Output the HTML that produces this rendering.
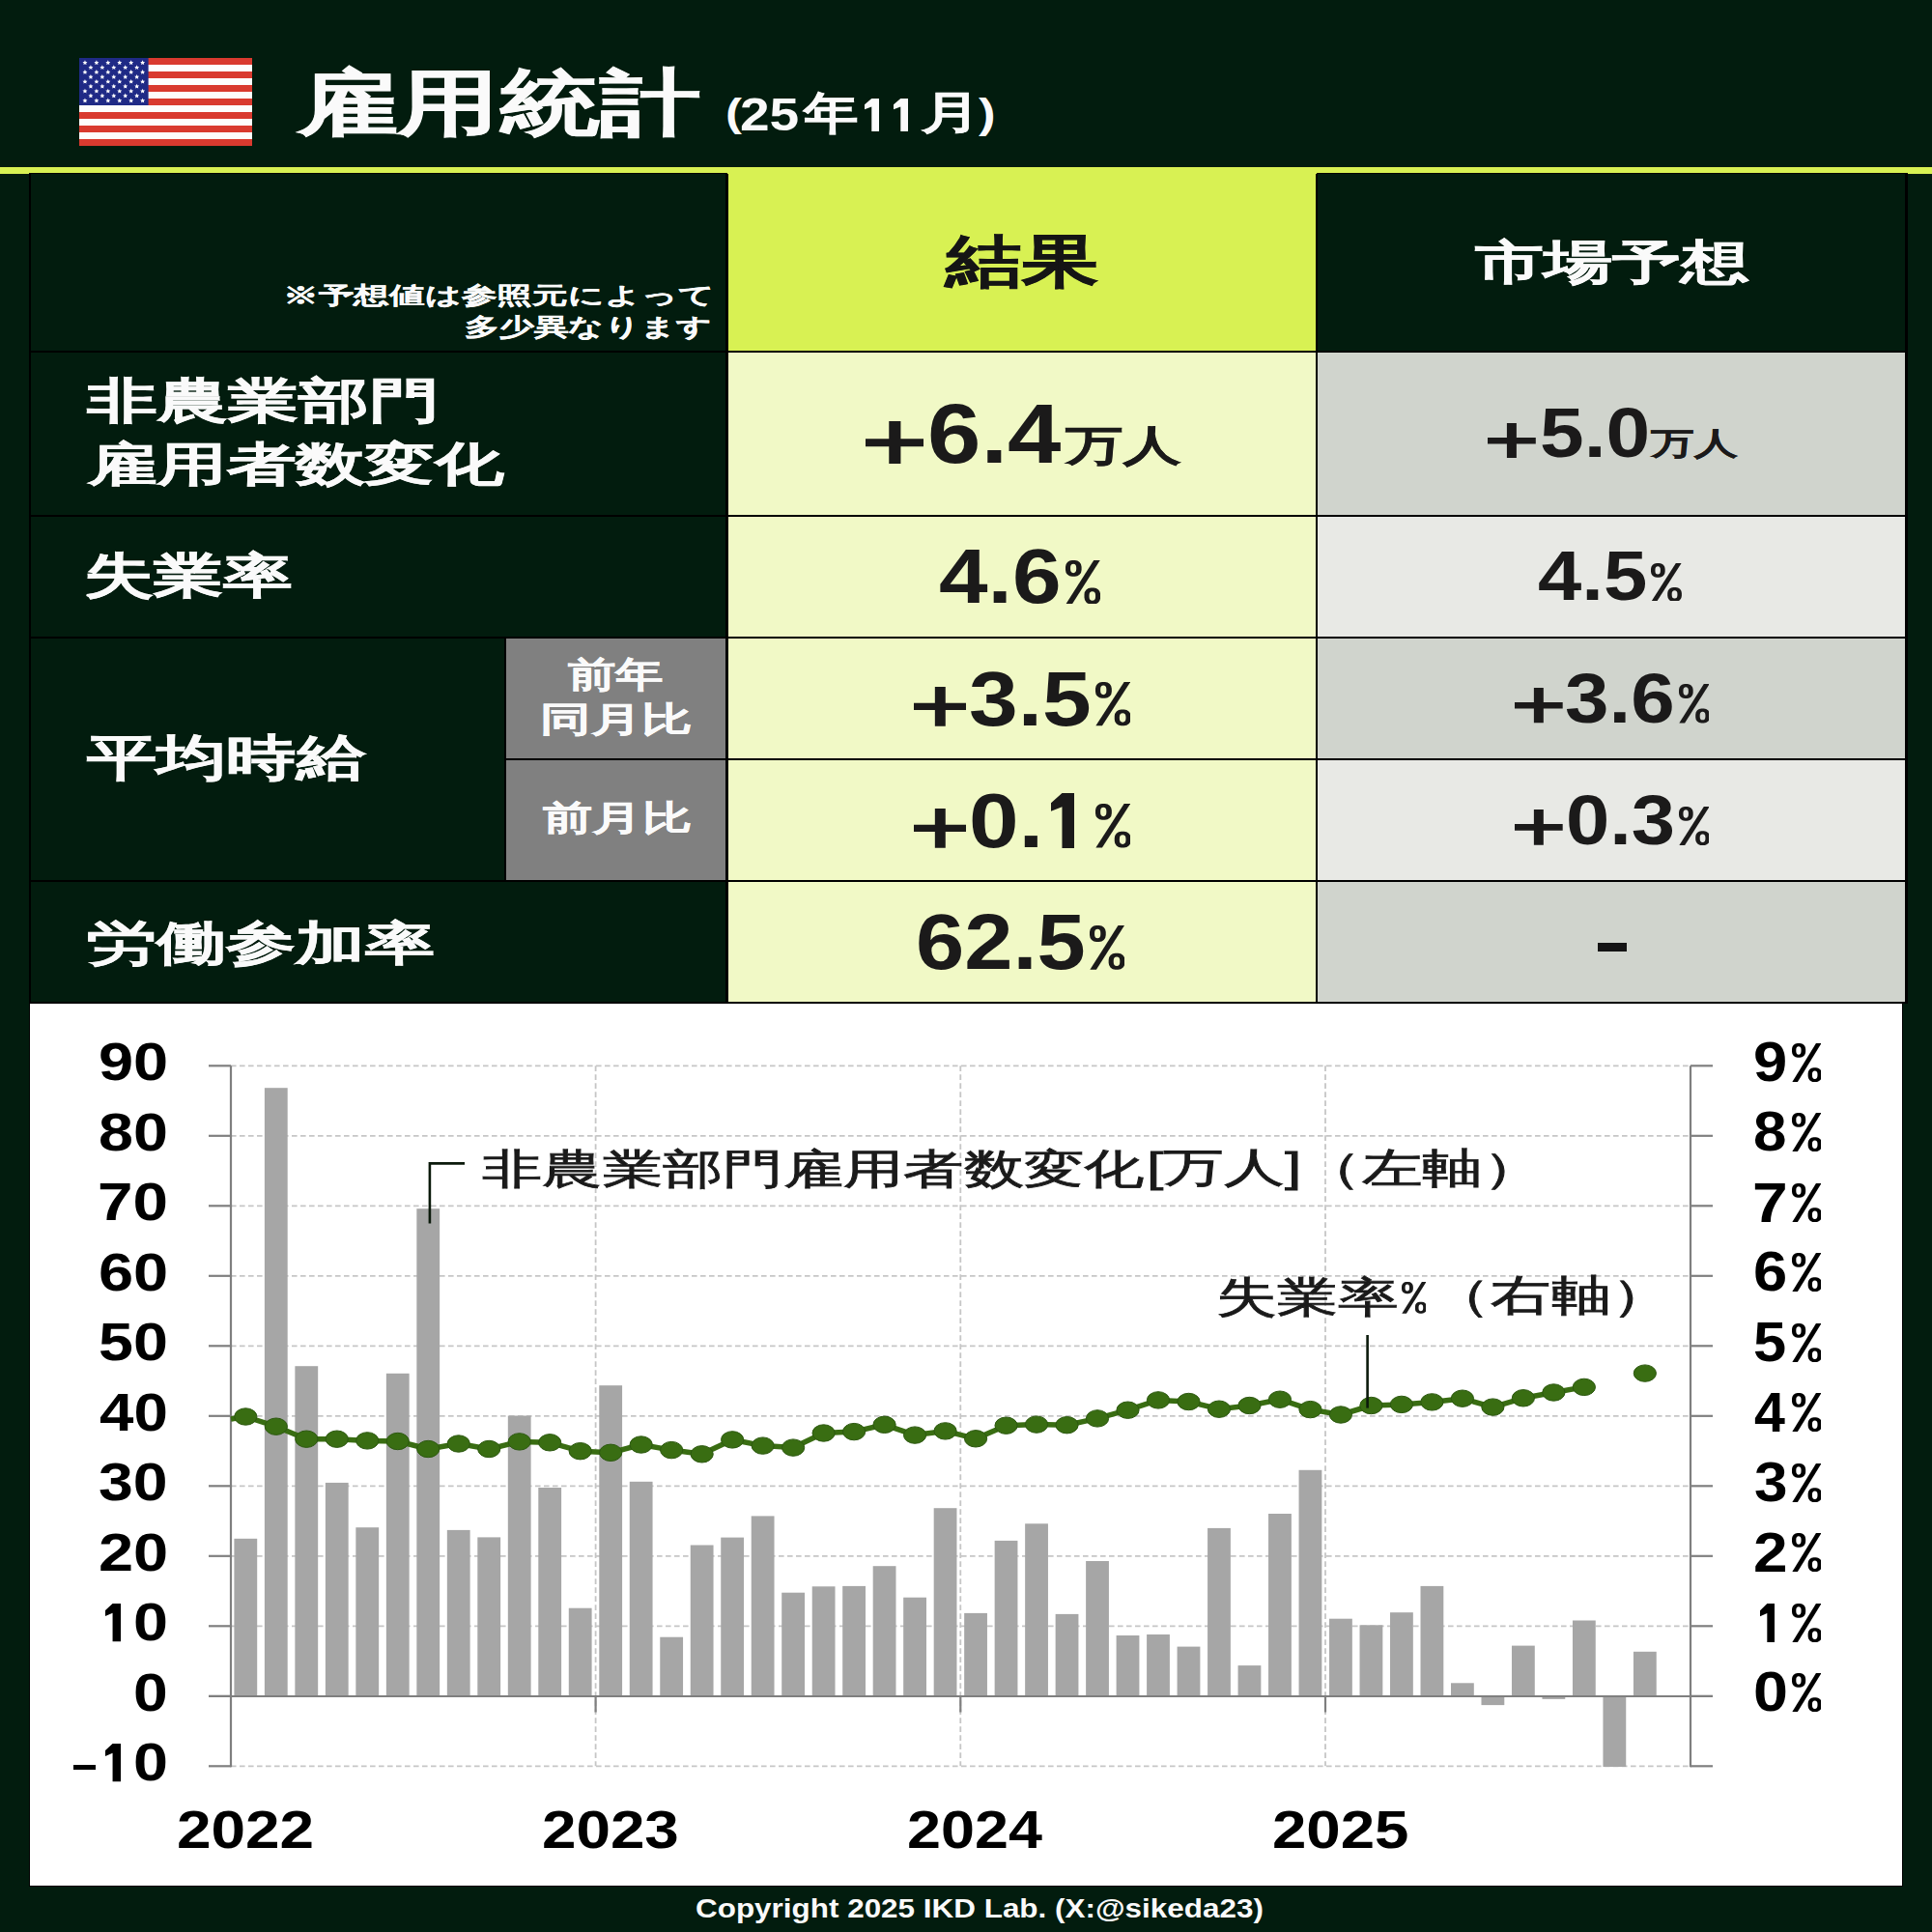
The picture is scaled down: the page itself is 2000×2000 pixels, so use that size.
<!DOCTYPE html>
<html><head><meta charset="utf-8"><style>
html,body{margin:0;padding:0}
body{width:2000px;height:2000px;position:relative;overflow:hidden;background:#021c0e;font-family:'Liberation Sans',sans-serif}
.r{position:absolute}
.t{position:absolute;line-height:1;white-space:nowrap;transform-origin:0 0}
</style></head><body>
<svg style="position:absolute;left:82px;top:60px" width="179" height="91" viewBox="0 0 179 91"><rect x="0" y="0" width="179" height="91" fill="#fdfdfd"/><rect x="0" y="0.000" width="179" height="7.000" fill="#d93a2f"/><rect x="0" y="14.000" width="179" height="7.000" fill="#d93a2f"/><rect x="0" y="28.000" width="179" height="7.000" fill="#d93a2f"/><rect x="0" y="42.000" width="179" height="7.000" fill="#d93a2f"/><rect x="0" y="56.000" width="179" height="7.000" fill="#d93a2f"/><rect x="0" y="70.000" width="179" height="7.000" fill="#d93a2f"/><rect x="0" y="84.000" width="179" height="7.000" fill="#d93a2f"/><rect x="0" y="0" width="71.6" height="49.0" fill="#1f2a86"/><path transform="translate(5.97,4.90)" d="M0,-2.6 L0.76,-0.83 L2.47,-0.8 L1.23,0.39 L1.53,2.1 L0,1.3 L-1.53,2.1 L-1.23,0.39 L-2.47,-0.8 L-0.76,-0.83Z" fill="#fff"/><path transform="translate(17.90,4.90)" d="M0,-2.6 L0.76,-0.83 L2.47,-0.8 L1.23,0.39 L1.53,2.1 L0,1.3 L-1.53,2.1 L-1.23,0.39 L-2.47,-0.8 L-0.76,-0.83Z" fill="#fff"/><path transform="translate(29.83,4.90)" d="M0,-2.6 L0.76,-0.83 L2.47,-0.8 L1.23,0.39 L1.53,2.1 L0,1.3 L-1.53,2.1 L-1.23,0.39 L-2.47,-0.8 L-0.76,-0.83Z" fill="#fff"/><path transform="translate(41.77,4.90)" d="M0,-2.6 L0.76,-0.83 L2.47,-0.8 L1.23,0.39 L1.53,2.1 L0,1.3 L-1.53,2.1 L-1.23,0.39 L-2.47,-0.8 L-0.76,-0.83Z" fill="#fff"/><path transform="translate(53.70,4.90)" d="M0,-2.6 L0.76,-0.83 L2.47,-0.8 L1.23,0.39 L1.53,2.1 L0,1.3 L-1.53,2.1 L-1.23,0.39 L-2.47,-0.8 L-0.76,-0.83Z" fill="#fff"/><path transform="translate(65.63,4.90)" d="M0,-2.6 L0.76,-0.83 L2.47,-0.8 L1.23,0.39 L1.53,2.1 L0,1.3 L-1.53,2.1 L-1.23,0.39 L-2.47,-0.8 L-0.76,-0.83Z" fill="#fff"/><path transform="translate(11.93,9.80)" d="M0,-2.6 L0.76,-0.83 L2.47,-0.8 L1.23,0.39 L1.53,2.1 L0,1.3 L-1.53,2.1 L-1.23,0.39 L-2.47,-0.8 L-0.76,-0.83Z" fill="#fff"/><path transform="translate(23.87,9.80)" d="M0,-2.6 L0.76,-0.83 L2.47,-0.8 L1.23,0.39 L1.53,2.1 L0,1.3 L-1.53,2.1 L-1.23,0.39 L-2.47,-0.8 L-0.76,-0.83Z" fill="#fff"/><path transform="translate(35.80,9.80)" d="M0,-2.6 L0.76,-0.83 L2.47,-0.8 L1.23,0.39 L1.53,2.1 L0,1.3 L-1.53,2.1 L-1.23,0.39 L-2.47,-0.8 L-0.76,-0.83Z" fill="#fff"/><path transform="translate(47.73,9.80)" d="M0,-2.6 L0.76,-0.83 L2.47,-0.8 L1.23,0.39 L1.53,2.1 L0,1.3 L-1.53,2.1 L-1.23,0.39 L-2.47,-0.8 L-0.76,-0.83Z" fill="#fff"/><path transform="translate(59.67,9.80)" d="M0,-2.6 L0.76,-0.83 L2.47,-0.8 L1.23,0.39 L1.53,2.1 L0,1.3 L-1.53,2.1 L-1.23,0.39 L-2.47,-0.8 L-0.76,-0.83Z" fill="#fff"/><path transform="translate(5.97,14.70)" d="M0,-2.6 L0.76,-0.83 L2.47,-0.8 L1.23,0.39 L1.53,2.1 L0,1.3 L-1.53,2.1 L-1.23,0.39 L-2.47,-0.8 L-0.76,-0.83Z" fill="#fff"/><path transform="translate(17.90,14.70)" d="M0,-2.6 L0.76,-0.83 L2.47,-0.8 L1.23,0.39 L1.53,2.1 L0,1.3 L-1.53,2.1 L-1.23,0.39 L-2.47,-0.8 L-0.76,-0.83Z" fill="#fff"/><path transform="translate(29.83,14.70)" d="M0,-2.6 L0.76,-0.83 L2.47,-0.8 L1.23,0.39 L1.53,2.1 L0,1.3 L-1.53,2.1 L-1.23,0.39 L-2.47,-0.8 L-0.76,-0.83Z" fill="#fff"/><path transform="translate(41.77,14.70)" d="M0,-2.6 L0.76,-0.83 L2.47,-0.8 L1.23,0.39 L1.53,2.1 L0,1.3 L-1.53,2.1 L-1.23,0.39 L-2.47,-0.8 L-0.76,-0.83Z" fill="#fff"/><path transform="translate(53.70,14.70)" d="M0,-2.6 L0.76,-0.83 L2.47,-0.8 L1.23,0.39 L1.53,2.1 L0,1.3 L-1.53,2.1 L-1.23,0.39 L-2.47,-0.8 L-0.76,-0.83Z" fill="#fff"/><path transform="translate(65.63,14.70)" d="M0,-2.6 L0.76,-0.83 L2.47,-0.8 L1.23,0.39 L1.53,2.1 L0,1.3 L-1.53,2.1 L-1.23,0.39 L-2.47,-0.8 L-0.76,-0.83Z" fill="#fff"/><path transform="translate(11.93,19.60)" d="M0,-2.6 L0.76,-0.83 L2.47,-0.8 L1.23,0.39 L1.53,2.1 L0,1.3 L-1.53,2.1 L-1.23,0.39 L-2.47,-0.8 L-0.76,-0.83Z" fill="#fff"/><path transform="translate(23.87,19.60)" d="M0,-2.6 L0.76,-0.83 L2.47,-0.8 L1.23,0.39 L1.53,2.1 L0,1.3 L-1.53,2.1 L-1.23,0.39 L-2.47,-0.8 L-0.76,-0.83Z" fill="#fff"/><path transform="translate(35.80,19.60)" d="M0,-2.6 L0.76,-0.83 L2.47,-0.8 L1.23,0.39 L1.53,2.1 L0,1.3 L-1.53,2.1 L-1.23,0.39 L-2.47,-0.8 L-0.76,-0.83Z" fill="#fff"/><path transform="translate(47.73,19.60)" d="M0,-2.6 L0.76,-0.83 L2.47,-0.8 L1.23,0.39 L1.53,2.1 L0,1.3 L-1.53,2.1 L-1.23,0.39 L-2.47,-0.8 L-0.76,-0.83Z" fill="#fff"/><path transform="translate(59.67,19.60)" d="M0,-2.6 L0.76,-0.83 L2.47,-0.8 L1.23,0.39 L1.53,2.1 L0,1.3 L-1.53,2.1 L-1.23,0.39 L-2.47,-0.8 L-0.76,-0.83Z" fill="#fff"/><path transform="translate(5.97,24.50)" d="M0,-2.6 L0.76,-0.83 L2.47,-0.8 L1.23,0.39 L1.53,2.1 L0,1.3 L-1.53,2.1 L-1.23,0.39 L-2.47,-0.8 L-0.76,-0.83Z" fill="#fff"/><path transform="translate(17.90,24.50)" d="M0,-2.6 L0.76,-0.83 L2.47,-0.8 L1.23,0.39 L1.53,2.1 L0,1.3 L-1.53,2.1 L-1.23,0.39 L-2.47,-0.8 L-0.76,-0.83Z" fill="#fff"/><path transform="translate(29.83,24.50)" d="M0,-2.6 L0.76,-0.83 L2.47,-0.8 L1.23,0.39 L1.53,2.1 L0,1.3 L-1.53,2.1 L-1.23,0.39 L-2.47,-0.8 L-0.76,-0.83Z" fill="#fff"/><path transform="translate(41.77,24.50)" d="M0,-2.6 L0.76,-0.83 L2.47,-0.8 L1.23,0.39 L1.53,2.1 L0,1.3 L-1.53,2.1 L-1.23,0.39 L-2.47,-0.8 L-0.76,-0.83Z" fill="#fff"/><path transform="translate(53.70,24.50)" d="M0,-2.6 L0.76,-0.83 L2.47,-0.8 L1.23,0.39 L1.53,2.1 L0,1.3 L-1.53,2.1 L-1.23,0.39 L-2.47,-0.8 L-0.76,-0.83Z" fill="#fff"/><path transform="translate(65.63,24.50)" d="M0,-2.6 L0.76,-0.83 L2.47,-0.8 L1.23,0.39 L1.53,2.1 L0,1.3 L-1.53,2.1 L-1.23,0.39 L-2.47,-0.8 L-0.76,-0.83Z" fill="#fff"/><path transform="translate(11.93,29.40)" d="M0,-2.6 L0.76,-0.83 L2.47,-0.8 L1.23,0.39 L1.53,2.1 L0,1.3 L-1.53,2.1 L-1.23,0.39 L-2.47,-0.8 L-0.76,-0.83Z" fill="#fff"/><path transform="translate(23.87,29.40)" d="M0,-2.6 L0.76,-0.83 L2.47,-0.8 L1.23,0.39 L1.53,2.1 L0,1.3 L-1.53,2.1 L-1.23,0.39 L-2.47,-0.8 L-0.76,-0.83Z" fill="#fff"/><path transform="translate(35.80,29.40)" d="M0,-2.6 L0.76,-0.83 L2.47,-0.8 L1.23,0.39 L1.53,2.1 L0,1.3 L-1.53,2.1 L-1.23,0.39 L-2.47,-0.8 L-0.76,-0.83Z" fill="#fff"/><path transform="translate(47.73,29.40)" d="M0,-2.6 L0.76,-0.83 L2.47,-0.8 L1.23,0.39 L1.53,2.1 L0,1.3 L-1.53,2.1 L-1.23,0.39 L-2.47,-0.8 L-0.76,-0.83Z" fill="#fff"/><path transform="translate(59.67,29.40)" d="M0,-2.6 L0.76,-0.83 L2.47,-0.8 L1.23,0.39 L1.53,2.1 L0,1.3 L-1.53,2.1 L-1.23,0.39 L-2.47,-0.8 L-0.76,-0.83Z" fill="#fff"/><path transform="translate(5.97,34.30)" d="M0,-2.6 L0.76,-0.83 L2.47,-0.8 L1.23,0.39 L1.53,2.1 L0,1.3 L-1.53,2.1 L-1.23,0.39 L-2.47,-0.8 L-0.76,-0.83Z" fill="#fff"/><path transform="translate(17.90,34.30)" d="M0,-2.6 L0.76,-0.83 L2.47,-0.8 L1.23,0.39 L1.53,2.1 L0,1.3 L-1.53,2.1 L-1.23,0.39 L-2.47,-0.8 L-0.76,-0.83Z" fill="#fff"/><path transform="translate(29.83,34.30)" d="M0,-2.6 L0.76,-0.83 L2.47,-0.8 L1.23,0.39 L1.53,2.1 L0,1.3 L-1.53,2.1 L-1.23,0.39 L-2.47,-0.8 L-0.76,-0.83Z" fill="#fff"/><path transform="translate(41.77,34.30)" d="M0,-2.6 L0.76,-0.83 L2.47,-0.8 L1.23,0.39 L1.53,2.1 L0,1.3 L-1.53,2.1 L-1.23,0.39 L-2.47,-0.8 L-0.76,-0.83Z" fill="#fff"/><path transform="translate(53.70,34.30)" d="M0,-2.6 L0.76,-0.83 L2.47,-0.8 L1.23,0.39 L1.53,2.1 L0,1.3 L-1.53,2.1 L-1.23,0.39 L-2.47,-0.8 L-0.76,-0.83Z" fill="#fff"/><path transform="translate(65.63,34.30)" d="M0,-2.6 L0.76,-0.83 L2.47,-0.8 L1.23,0.39 L1.53,2.1 L0,1.3 L-1.53,2.1 L-1.23,0.39 L-2.47,-0.8 L-0.76,-0.83Z" fill="#fff"/><path transform="translate(11.93,39.20)" d="M0,-2.6 L0.76,-0.83 L2.47,-0.8 L1.23,0.39 L1.53,2.1 L0,1.3 L-1.53,2.1 L-1.23,0.39 L-2.47,-0.8 L-0.76,-0.83Z" fill="#fff"/><path transform="translate(23.87,39.20)" d="M0,-2.6 L0.76,-0.83 L2.47,-0.8 L1.23,0.39 L1.53,2.1 L0,1.3 L-1.53,2.1 L-1.23,0.39 L-2.47,-0.8 L-0.76,-0.83Z" fill="#fff"/><path transform="translate(35.80,39.20)" d="M0,-2.6 L0.76,-0.83 L2.47,-0.8 L1.23,0.39 L1.53,2.1 L0,1.3 L-1.53,2.1 L-1.23,0.39 L-2.47,-0.8 L-0.76,-0.83Z" fill="#fff"/><path transform="translate(47.73,39.20)" d="M0,-2.6 L0.76,-0.83 L2.47,-0.8 L1.23,0.39 L1.53,2.1 L0,1.3 L-1.53,2.1 L-1.23,0.39 L-2.47,-0.8 L-0.76,-0.83Z" fill="#fff"/><path transform="translate(59.67,39.20)" d="M0,-2.6 L0.76,-0.83 L2.47,-0.8 L1.23,0.39 L1.53,2.1 L0,1.3 L-1.53,2.1 L-1.23,0.39 L-2.47,-0.8 L-0.76,-0.83Z" fill="#fff"/><path transform="translate(5.97,44.10)" d="M0,-2.6 L0.76,-0.83 L2.47,-0.8 L1.23,0.39 L1.53,2.1 L0,1.3 L-1.53,2.1 L-1.23,0.39 L-2.47,-0.8 L-0.76,-0.83Z" fill="#fff"/><path transform="translate(17.90,44.10)" d="M0,-2.6 L0.76,-0.83 L2.47,-0.8 L1.23,0.39 L1.53,2.1 L0,1.3 L-1.53,2.1 L-1.23,0.39 L-2.47,-0.8 L-0.76,-0.83Z" fill="#fff"/><path transform="translate(29.83,44.10)" d="M0,-2.6 L0.76,-0.83 L2.47,-0.8 L1.23,0.39 L1.53,2.1 L0,1.3 L-1.53,2.1 L-1.23,0.39 L-2.47,-0.8 L-0.76,-0.83Z" fill="#fff"/><path transform="translate(41.77,44.10)" d="M0,-2.6 L0.76,-0.83 L2.47,-0.8 L1.23,0.39 L1.53,2.1 L0,1.3 L-1.53,2.1 L-1.23,0.39 L-2.47,-0.8 L-0.76,-0.83Z" fill="#fff"/><path transform="translate(53.70,44.10)" d="M0,-2.6 L0.76,-0.83 L2.47,-0.8 L1.23,0.39 L1.53,2.1 L0,1.3 L-1.53,2.1 L-1.23,0.39 L-2.47,-0.8 L-0.76,-0.83Z" fill="#fff"/><path transform="translate(65.63,44.10)" d="M0,-2.6 L0.76,-0.83 L2.47,-0.8 L1.23,0.39 L1.53,2.1 L0,1.3 L-1.53,2.1 L-1.23,0.39 L-2.47,-0.8 L-0.76,-0.83Z" fill="#fff"/></svg>
<div class="r" style="left:0px;top:173px;width:2000px;height:7px;background:#d8f153"></div>
<div class="r" style="left:753px;top:174px;width:610px;height:189px;background:#d8f153"></div>
<div class="r" style="left:753px;top:363px;width:610px;height:675px;background:#f1f9c6"></div>
<div class="r" style="left:1363px;top:363px;width:610px;height:170px;background:#d0d4cd"></div>
<div class="r" style="left:1363px;top:533px;width:610px;height:127px;background:#e8e9e5"></div>
<div class="r" style="left:1363px;top:660px;width:610px;height:126px;background:#d0d4cd"></div>
<div class="r" style="left:1363px;top:786px;width:610px;height:126px;background:#e8e9e5"></div>
<div class="r" style="left:1363px;top:912px;width:610px;height:126px;background:#d0d4cd"></div>
<div class="r" style="left:523px;top:660px;width:229px;height:252px;background:#808080"></div>
<div class="r" style="left:1653.6px;top:976.2px;width:30.300000000000182px;height:8.599999999999909px;background:#141414"></div>
<div class="r" style="left:30px;top:178.75px;width:723px;height:1.5px;background:#000"></div>
<div class="r" style="left:1363px;top:178.75px;width:612px;height:1.5px;background:#000"></div>
<div class="r" style="left:30px;top:362.5px;width:1945px;height:2.0px;background:#000"></div>
<div class="r" style="left:30px;top:532.5px;width:1945px;height:2.0px;background:#000"></div>
<div class="r" style="left:30px;top:659.0px;width:1945px;height:2.0px;background:#000"></div>
<div class="r" style="left:523px;top:785.0px;width:1452px;height:2.0px;background:#000"></div>
<div class="r" style="left:30px;top:911.0px;width:1945px;height:2.0px;background:#000"></div>
<div class="r" style="left:30px;top:1037.0px;width:1945px;height:2.0px;background:#000"></div>
<div class="r" style="left:29.75px;top:180px;width:2.5px;height:858px;background:#000"></div>
<div class="r" style="left:751.25px;top:180px;width:2.5px;height:858px;background:#000"></div>
<div class="r" style="left:1361.95px;top:180px;width:2.5px;height:858px;background:#000"></div>
<div class="r" style="left:1972.25px;top:180px;width:2.5px;height:858px;background:#000"></div>
<div class="r" style="left:522.0px;top:660px;width:2.0px;height:252px;background:#000"></div>
<div class="r" style="left:30px;top:1037px;width:1940px;height:916px;background:#000"></div>
<div class="r" style="left:31px;top:1039px;width:1938px;height:913px;background:#fff"></div>
<svg style="position:absolute;left:0;top:0" width="2000" height="2000" viewBox="0 0 2000 2000"><line x1="239" y1="1103.30" x2="1750" y2="1103.30" stroke="#c6c6c6" stroke-width="1.8" stroke-dasharray="5.6 3.4"/><line x1="239" y1="1175.80" x2="1750" y2="1175.80" stroke="#c6c6c6" stroke-width="1.8" stroke-dasharray="5.6 3.4"/><line x1="239" y1="1248.30" x2="1750" y2="1248.30" stroke="#c6c6c6" stroke-width="1.8" stroke-dasharray="5.6 3.4"/><line x1="239" y1="1320.80" x2="1750" y2="1320.80" stroke="#c6c6c6" stroke-width="1.8" stroke-dasharray="5.6 3.4"/><line x1="239" y1="1393.30" x2="1750" y2="1393.30" stroke="#c6c6c6" stroke-width="1.8" stroke-dasharray="5.6 3.4"/><line x1="239" y1="1465.80" x2="1750" y2="1465.80" stroke="#c6c6c6" stroke-width="1.8" stroke-dasharray="5.6 3.4"/><line x1="239" y1="1538.30" x2="1750" y2="1538.30" stroke="#c6c6c6" stroke-width="1.8" stroke-dasharray="5.6 3.4"/><line x1="239" y1="1610.80" x2="1750" y2="1610.80" stroke="#c6c6c6" stroke-width="1.8" stroke-dasharray="5.6 3.4"/><line x1="239" y1="1683.30" x2="1750" y2="1683.30" stroke="#c6c6c6" stroke-width="1.8" stroke-dasharray="5.6 3.4"/><line x1="239" y1="1828.30" x2="1750" y2="1828.30" stroke="#c6c6c6" stroke-width="1.8" stroke-dasharray="5.6 3.4"/><line x1="616.6" y1="1103.3" x2="616.6" y2="1828.3" stroke="#c6c6c6" stroke-width="1.8" stroke-dasharray="5.6 3.4"/><line x1="994.3" y1="1103.3" x2="994.3" y2="1828.3" stroke="#c6c6c6" stroke-width="1.8" stroke-dasharray="5.6 3.4"/><line x1="1372" y1="1103.3" x2="1372" y2="1828.3" stroke="#c6c6c6" stroke-width="1.8" stroke-dasharray="5.6 3.4"/><rect x="242.40" y="1592.80" width="23.8" height="163.20" fill="#a6a6a6"/><rect x="273.89" y="1126.20" width="23.8" height="629.80" fill="#a6a6a6"/><rect x="305.38" y="1414.20" width="23.8" height="341.80" fill="#a6a6a6"/><rect x="336.87" y="1534.90" width="23.8" height="221.10" fill="#a6a6a6"/><rect x="368.36" y="1581.20" width="23.8" height="174.80" fill="#a6a6a6"/><rect x="399.85" y="1421.80" width="23.8" height="334.20" fill="#a6a6a6"/><rect x="431.34" y="1251.20" width="23.8" height="504.80" fill="#a6a6a6"/><rect x="462.83" y="1583.90" width="23.8" height="172.10" fill="#a6a6a6"/><rect x="494.32" y="1591.40" width="23.8" height="164.60" fill="#a6a6a6"/><rect x="525.81" y="1465.50" width="23.8" height="290.50" fill="#a6a6a6"/><rect x="557.30" y="1540.00" width="23.8" height="216.00" fill="#a6a6a6"/><rect x="588.79" y="1664.70" width="23.8" height="91.30" fill="#a6a6a6"/><rect x="620.28" y="1434.20" width="23.8" height="321.80" fill="#a6a6a6"/><rect x="651.77" y="1533.80" width="23.8" height="222.20" fill="#a6a6a6"/><rect x="683.26" y="1694.70" width="23.8" height="61.30" fill="#a6a6a6"/><rect x="714.75" y="1599.50" width="23.8" height="156.50" fill="#a6a6a6"/><rect x="746.24" y="1591.60" width="23.8" height="164.40" fill="#a6a6a6"/><rect x="777.73" y="1569.40" width="23.8" height="186.60" fill="#a6a6a6"/><rect x="809.22" y="1648.70" width="23.8" height="107.30" fill="#a6a6a6"/><rect x="840.71" y="1642.30" width="23.8" height="113.70" fill="#a6a6a6"/><rect x="872.20" y="1641.90" width="23.8" height="114.10" fill="#a6a6a6"/><rect x="903.69" y="1621.20" width="23.8" height="134.80" fill="#a6a6a6"/><rect x="935.18" y="1653.70" width="23.8" height="102.30" fill="#a6a6a6"/><rect x="966.67" y="1561.20" width="23.8" height="194.80" fill="#a6a6a6"/><rect x="998.16" y="1669.90" width="23.8" height="86.10" fill="#a6a6a6"/><rect x="1029.65" y="1594.90" width="23.8" height="161.10" fill="#a6a6a6"/><rect x="1061.14" y="1577.30" width="23.8" height="178.70" fill="#a6a6a6"/><rect x="1092.63" y="1670.90" width="23.8" height="85.10" fill="#a6a6a6"/><rect x="1124.12" y="1616.00" width="23.8" height="140.00" fill="#a6a6a6"/><rect x="1155.61" y="1693.00" width="23.8" height="63.00" fill="#a6a6a6"/><rect x="1187.10" y="1692.00" width="23.8" height="64.00" fill="#a6a6a6"/><rect x="1218.59" y="1704.60" width="23.8" height="51.40" fill="#a6a6a6"/><rect x="1250.08" y="1581.90" width="23.8" height="174.10" fill="#a6a6a6"/><rect x="1281.57" y="1724.10" width="23.8" height="31.90" fill="#a6a6a6"/><rect x="1313.06" y="1567.00" width="23.8" height="189.00" fill="#a6a6a6"/><rect x="1344.55" y="1521.80" width="23.8" height="234.20" fill="#a6a6a6"/><rect x="1376.04" y="1675.70" width="23.8" height="80.30" fill="#a6a6a6"/><rect x="1407.53" y="1682.30" width="23.8" height="73.70" fill="#a6a6a6"/><rect x="1439.02" y="1669.20" width="23.8" height="86.80" fill="#a6a6a6"/><rect x="1470.51" y="1641.90" width="23.8" height="114.10" fill="#a6a6a6"/><rect x="1502.00" y="1742.30" width="23.8" height="13.70" fill="#a6a6a6"/><rect x="1533.49" y="1756.00" width="23.8" height="9.10" fill="#a6a6a6"/><rect x="1564.98" y="1703.60" width="23.8" height="52.40" fill="#a6a6a6"/><rect x="1596.47" y="1756.00" width="23.8" height="2.90" fill="#a6a6a6"/><rect x="1627.96" y="1677.50" width="23.8" height="78.50" fill="#a6a6a6"/><rect x="1659.45" y="1756.00" width="23.8" height="73.00" fill="#a6a6a6"/><rect x="1690.94" y="1709.80" width="23.8" height="46.20" fill="#a6a6a6"/><line x1="216" y1="1756" x2="1773" y2="1756" stroke="#7f7f7f" stroke-width="2.2"/><line x1="239" y1="1103.3" x2="239" y2="1829.3" stroke="#7f7f7f" stroke-width="2.2"/><line x1="1750" y1="1103.3" x2="1750" y2="1829.3" stroke="#7f7f7f" stroke-width="2.2"/><line x1="216" y1="1103.30" x2="239" y2="1103.30" stroke="#7f7f7f" stroke-width="2.2"/><line x1="1750" y1="1103.30" x2="1773" y2="1103.30" stroke="#7f7f7f" stroke-width="2.2"/><line x1="216" y1="1175.80" x2="239" y2="1175.80" stroke="#7f7f7f" stroke-width="2.2"/><line x1="1750" y1="1175.80" x2="1773" y2="1175.80" stroke="#7f7f7f" stroke-width="2.2"/><line x1="216" y1="1248.30" x2="239" y2="1248.30" stroke="#7f7f7f" stroke-width="2.2"/><line x1="1750" y1="1248.30" x2="1773" y2="1248.30" stroke="#7f7f7f" stroke-width="2.2"/><line x1="216" y1="1320.80" x2="239" y2="1320.80" stroke="#7f7f7f" stroke-width="2.2"/><line x1="1750" y1="1320.80" x2="1773" y2="1320.80" stroke="#7f7f7f" stroke-width="2.2"/><line x1="216" y1="1393.30" x2="239" y2="1393.30" stroke="#7f7f7f" stroke-width="2.2"/><line x1="1750" y1="1393.30" x2="1773" y2="1393.30" stroke="#7f7f7f" stroke-width="2.2"/><line x1="216" y1="1465.80" x2="239" y2="1465.80" stroke="#7f7f7f" stroke-width="2.2"/><line x1="1750" y1="1465.80" x2="1773" y2="1465.80" stroke="#7f7f7f" stroke-width="2.2"/><line x1="216" y1="1538.30" x2="239" y2="1538.30" stroke="#7f7f7f" stroke-width="2.2"/><line x1="1750" y1="1538.30" x2="1773" y2="1538.30" stroke="#7f7f7f" stroke-width="2.2"/><line x1="216" y1="1610.80" x2="239" y2="1610.80" stroke="#7f7f7f" stroke-width="2.2"/><line x1="1750" y1="1610.80" x2="1773" y2="1610.80" stroke="#7f7f7f" stroke-width="2.2"/><line x1="216" y1="1683.30" x2="239" y2="1683.30" stroke="#7f7f7f" stroke-width="2.2"/><line x1="1750" y1="1683.30" x2="1773" y2="1683.30" stroke="#7f7f7f" stroke-width="2.2"/><line x1="216" y1="1755.80" x2="239" y2="1755.80" stroke="#7f7f7f" stroke-width="2.2"/><line x1="1750" y1="1755.80" x2="1773" y2="1755.80" stroke="#7f7f7f" stroke-width="2.2"/><line x1="216" y1="1828.30" x2="239" y2="1828.30" stroke="#7f7f7f" stroke-width="2.2"/><line x1="1750" y1="1828.30" x2="1773" y2="1828.30" stroke="#7f7f7f" stroke-width="2.2"/><line x1="616.6" y1="1756" x2="616.6" y2="1772.5" stroke="#7f7f7f" stroke-width="2.2"/><line x1="994.3" y1="1756" x2="994.3" y2="1772.5" stroke="#7f7f7f" stroke-width="2.2"/><line x1="1372" y1="1756" x2="1372" y2="1772.5" stroke="#7f7f7f" stroke-width="2.2"/><polyline points="239,1469 254.30,1466.5 285.79,1476.7 317.28,1489.7 348.77,1489.7 380.26,1491.4 411.75,1492 443.24,1500 474.73,1494.5 506.22,1500 537.71,1492.4 569.20,1493.3 600.69,1502.2 632.18,1503.8 663.67,1495.5 695.16,1501.1 726.65,1505.3 758.14,1490.4 789.63,1496.6 821.12,1498.6 852.61,1483.5 884.10,1482.1 915.59,1474.8 947.08,1485.6 978.57,1481.4 1010.06,1489.3 1041.55,1475.7 1073.04,1474.6 1104.53,1475.2 1136.02,1468.4 1167.51,1459.7 1199.00,1449.4 1230.49,1451 1261.98,1458.7 1293.47,1455 1324.96,1448.7 1356.45,1459.1 1387.94,1464.5 1419.43,1455 1450.92,1453.9 1482.41,1451.4 1513.90,1447.7 1545.39,1456.6 1576.88,1447.3 1608.37,1441.5 1639.86,1435.9" fill="none" stroke="#396d12" stroke-width="5.5" stroke-linejoin="round"/><ellipse cx="254.30" cy="1466.5" rx="11.6" ry="8.7" fill="#396d12" stroke="#2c5810" stroke-width="1"/><ellipse cx="285.79" cy="1476.7" rx="11.6" ry="8.7" fill="#396d12" stroke="#2c5810" stroke-width="1"/><ellipse cx="317.28" cy="1489.7" rx="11.6" ry="8.7" fill="#396d12" stroke="#2c5810" stroke-width="1"/><ellipse cx="348.77" cy="1489.7" rx="11.6" ry="8.7" fill="#396d12" stroke="#2c5810" stroke-width="1"/><ellipse cx="380.26" cy="1491.4" rx="11.6" ry="8.7" fill="#396d12" stroke="#2c5810" stroke-width="1"/><ellipse cx="411.75" cy="1492" rx="11.6" ry="8.7" fill="#396d12" stroke="#2c5810" stroke-width="1"/><ellipse cx="443.24" cy="1500" rx="11.6" ry="8.7" fill="#396d12" stroke="#2c5810" stroke-width="1"/><ellipse cx="474.73" cy="1494.5" rx="11.6" ry="8.7" fill="#396d12" stroke="#2c5810" stroke-width="1"/><ellipse cx="506.22" cy="1500" rx="11.6" ry="8.7" fill="#396d12" stroke="#2c5810" stroke-width="1"/><ellipse cx="537.71" cy="1492.4" rx="11.6" ry="8.7" fill="#396d12" stroke="#2c5810" stroke-width="1"/><ellipse cx="569.20" cy="1493.3" rx="11.6" ry="8.7" fill="#396d12" stroke="#2c5810" stroke-width="1"/><ellipse cx="600.69" cy="1502.2" rx="11.6" ry="8.7" fill="#396d12" stroke="#2c5810" stroke-width="1"/><ellipse cx="632.18" cy="1503.8" rx="11.6" ry="8.7" fill="#396d12" stroke="#2c5810" stroke-width="1"/><ellipse cx="663.67" cy="1495.5" rx="11.6" ry="8.7" fill="#396d12" stroke="#2c5810" stroke-width="1"/><ellipse cx="695.16" cy="1501.1" rx="11.6" ry="8.7" fill="#396d12" stroke="#2c5810" stroke-width="1"/><ellipse cx="726.65" cy="1505.3" rx="11.6" ry="8.7" fill="#396d12" stroke="#2c5810" stroke-width="1"/><ellipse cx="758.14" cy="1490.4" rx="11.6" ry="8.7" fill="#396d12" stroke="#2c5810" stroke-width="1"/><ellipse cx="789.63" cy="1496.6" rx="11.6" ry="8.7" fill="#396d12" stroke="#2c5810" stroke-width="1"/><ellipse cx="821.12" cy="1498.6" rx="11.6" ry="8.7" fill="#396d12" stroke="#2c5810" stroke-width="1"/><ellipse cx="852.61" cy="1483.5" rx="11.6" ry="8.7" fill="#396d12" stroke="#2c5810" stroke-width="1"/><ellipse cx="884.10" cy="1482.1" rx="11.6" ry="8.7" fill="#396d12" stroke="#2c5810" stroke-width="1"/><ellipse cx="915.59" cy="1474.8" rx="11.6" ry="8.7" fill="#396d12" stroke="#2c5810" stroke-width="1"/><ellipse cx="947.08" cy="1485.6" rx="11.6" ry="8.7" fill="#396d12" stroke="#2c5810" stroke-width="1"/><ellipse cx="978.57" cy="1481.4" rx="11.6" ry="8.7" fill="#396d12" stroke="#2c5810" stroke-width="1"/><ellipse cx="1010.06" cy="1489.3" rx="11.6" ry="8.7" fill="#396d12" stroke="#2c5810" stroke-width="1"/><ellipse cx="1041.55" cy="1475.7" rx="11.6" ry="8.7" fill="#396d12" stroke="#2c5810" stroke-width="1"/><ellipse cx="1073.04" cy="1474.6" rx="11.6" ry="8.7" fill="#396d12" stroke="#2c5810" stroke-width="1"/><ellipse cx="1104.53" cy="1475.2" rx="11.6" ry="8.7" fill="#396d12" stroke="#2c5810" stroke-width="1"/><ellipse cx="1136.02" cy="1468.4" rx="11.6" ry="8.7" fill="#396d12" stroke="#2c5810" stroke-width="1"/><ellipse cx="1167.51" cy="1459.7" rx="11.6" ry="8.7" fill="#396d12" stroke="#2c5810" stroke-width="1"/><ellipse cx="1199.00" cy="1449.4" rx="11.6" ry="8.7" fill="#396d12" stroke="#2c5810" stroke-width="1"/><ellipse cx="1230.49" cy="1451" rx="11.6" ry="8.7" fill="#396d12" stroke="#2c5810" stroke-width="1"/><ellipse cx="1261.98" cy="1458.7" rx="11.6" ry="8.7" fill="#396d12" stroke="#2c5810" stroke-width="1"/><ellipse cx="1293.47" cy="1455" rx="11.6" ry="8.7" fill="#396d12" stroke="#2c5810" stroke-width="1"/><ellipse cx="1324.96" cy="1448.7" rx="11.6" ry="8.7" fill="#396d12" stroke="#2c5810" stroke-width="1"/><ellipse cx="1356.45" cy="1459.1" rx="11.6" ry="8.7" fill="#396d12" stroke="#2c5810" stroke-width="1"/><ellipse cx="1387.94" cy="1464.5" rx="11.6" ry="8.7" fill="#396d12" stroke="#2c5810" stroke-width="1"/><ellipse cx="1419.43" cy="1455" rx="11.6" ry="8.7" fill="#396d12" stroke="#2c5810" stroke-width="1"/><ellipse cx="1450.92" cy="1453.9" rx="11.6" ry="8.7" fill="#396d12" stroke="#2c5810" stroke-width="1"/><ellipse cx="1482.41" cy="1451.4" rx="11.6" ry="8.7" fill="#396d12" stroke="#2c5810" stroke-width="1"/><ellipse cx="1513.90" cy="1447.7" rx="11.6" ry="8.7" fill="#396d12" stroke="#2c5810" stroke-width="1"/><ellipse cx="1545.39" cy="1456.6" rx="11.6" ry="8.7" fill="#396d12" stroke="#2c5810" stroke-width="1"/><ellipse cx="1576.88" cy="1447.3" rx="11.6" ry="8.7" fill="#396d12" stroke="#2c5810" stroke-width="1"/><ellipse cx="1608.37" cy="1441.5" rx="11.6" ry="8.7" fill="#396d12" stroke="#2c5810" stroke-width="1"/><ellipse cx="1639.86" cy="1435.9" rx="11.6" ry="8.7" fill="#396d12" stroke="#2c5810" stroke-width="1"/><ellipse cx="1702.84" cy="1421.6" rx="11.6" ry="8.7" fill="#396d12" stroke="#2c5810" stroke-width="1"/><polyline points="444.9,1266.6 444.9,1204.4 481,1204.4" fill="none" stroke="#0b1a0b" stroke-width="2.6"/><line x1="1415.6" y1="1382" x2="1415.6" y2="1457.6" stroke="#0b1a0b" stroke-width="2.6"/></svg>
<div class="t" style="left:308.07px;top:70.20px;font-size:73.50px;font-weight:bold;color:#fafafa;-webkit-text-stroke:0.01em #fafafa;transform:scaleX(1.4115)">雇用統計</div>
<div class="t" style="left:750.65px;top:97.07px;font-size:41.07px;font-weight:bold;color:#fafafa;transform:scaleX(1.2435)">(</div>
<div class="t" style="left:766.37px;top:94.15px;font-size:48.59px;font-weight:bold;color:#fafafa;transform:scaleX(1.1329)">25</div>
<div class="t" style="left:832.08px;top:94.94px;font-size:45.74px;font-weight:bold;color:#fafafa;-webkit-text-stroke:0.01em #fafafa;transform:scaleX(1.2272)">年</div>
<div class="t" style="left:954.21px;top:93.75px;font-size:45.85px;font-weight:bold;color:#fafafa;-webkit-text-stroke:0.01em #fafafa;transform:scaleX(1.3300)">月</div>
<div class="t" style="left:1012.84px;top:96.57px;font-size:41.93px;font-weight:bold;color:#fafafa;transform:scaleX(1.2608)">)</div>
<div class="t" style="left:978.99px;top:239.59px;font-size:60.42px;font-weight:bold;color:#151515;-webkit-text-stroke:0.01em #151515;transform:scaleX(1.3160)">結果</div>
<div class="t" style="left:1526.66px;top:246.94px;font-size:48.13px;font-weight:bold;color:#fafafa;-webkit-text-stroke:0.01em #fafafa;transform:scaleX(1.4768)">市場予想</div>
<div class="t" style="left:293.16px;top:295.46px;font-size:23.70px;font-weight:bold;color:#fafafa;-webkit-text-stroke:0.01em #fafafa;transform:scaleX(1.5275)">※予想値は参照元によって</div>
<div class="t" style="left:480.79px;top:327.00px;font-size:24.64px;font-weight:bold;color:#fafafa;-webkit-text-stroke:0.01em #fafafa;transform:scaleX(1.4321)">多少異なります</div>
<div class="t" style="left:90.26px;top:391.14px;font-size:49.66px;font-weight:bold;color:#fafafa;-webkit-text-stroke:0.01em #fafafa;transform:scaleX(1.4577)">非農業部門</div>
<div class="t" style="left:91.34px;top:457.38px;font-size:48.00px;font-weight:bold;color:#fafafa;-webkit-text-stroke:0.01em #fafafa;transform:scaleX(1.4948)">雇用者数変化</div>
<div class="t" style="left:87.26px;top:571.31px;font-size:50.48px;font-weight:bold;color:#fafafa;-webkit-text-stroke:0.01em #fafafa;transform:scaleX(1.4361)">失業率</div>
<div class="t" style="left:90.16px;top:760.00px;font-size:50.65px;font-weight:bold;color:#fafafa;-webkit-text-stroke:0.01em #fafafa;transform:scaleX(1.4161)">平均時給</div>
<div class="t" style="left:89.92px;top:951.64px;font-size:48.10px;font-weight:bold;color:#fafafa;-webkit-text-stroke:0.01em #fafafa;transform:scaleX(1.5013)">労働参加率</div>
<div class="t" style="left:588.25px;top:680.20px;font-size:37.37px;font-weight:bold;color:#fafafa;-webkit-text-stroke:0.01em #fafafa;transform:scaleX(1.3345)">前年</div>
<div class="t" style="left:558.60px;top:728.00px;font-size:35.90px;font-weight:bold;color:#fafafa;-webkit-text-stroke:0.01em #fafafa;transform:scaleX(1.4584)">同月比</div>
<div class="t" style="left:562.26px;top:830.20px;font-size:35.90px;font-weight:bold;color:#fafafa;-webkit-text-stroke:0.01em #fafafa;transform:scaleX(1.4241)">前月比</div>
<div class="t" style="left:960.01px;top:405.52px;font-size:87.46px;font-weight:bold;color:#1b1a1a;transform:scaleX(1.1391)">6.4</div>
<div class="t" style="left:1102.68px;top:440.12px;font-size:42.61px;font-weight:bold;color:#1b1a1a;-webkit-text-stroke:0.01em #1b1a1a;transform:scaleX(1.3850)">万人</div>
<div class="t" style="left:1593.54px;top:413.25px;font-size:71.41px;font-weight:bold;color:#1b1a1a;transform:scaleX(1.1490)">5.0</div>
<div class="t" style="left:1709.11px;top:444.34px;font-size:31.86px;font-weight:bold;color:#1b1a1a;-webkit-text-stroke:0.01em #1b1a1a;transform:scaleX(1.3974)">万人</div>
<div class="t" style="left:971.93px;top:556.32px;font-size:80.56px;font-weight:bold;color:#1b1a1a;transform:scaleX(1.1301)">4.6</div>
<div class="t" style="left:1592.08px;top:560.13px;font-size:72.71px;font-weight:bold;color:#1b1a1a;transform:scaleX(1.1206)">4.5</div>
<div class="t" style="left:1002.52px;top:682.82px;font-size:80.56px;font-weight:bold;color:#1b1a1a;transform:scaleX(1.1315)">3.5</div>
<div class="t" style="left:1620.36px;top:686.52px;font-size:72.96px;font-weight:bold;color:#1b1a1a;transform:scaleX(1.1202)">3.6</div>
<div class="t" style="left:1003.29px;top:808.92px;font-size:80.56px;font-weight:bold;color:#1b1a1a;transform:scaleX(1.1522)">0.</div>
<div class="t" style="left:1620.85px;top:813.24px;font-size:72.11px;font-weight:bold;color:#1b1a1a;transform:scaleX(1.1284)">0.3</div>
<div class="t" style="left:947.74px;top:934.40px;font-size:81.41px;font-weight:bold;color:#1b1a1a;transform:scaleX(1.1091)">62.5</div>
<div class="t" style="left:101.53px;top:1072.27px;font-size:55.35px;font-weight:bold;color:#000;transform:scaleX(1.1730)">90</div>
<div class="t" style="left:101.86px;top:1144.77px;font-size:55.35px;font-weight:bold;color:#000;transform:scaleX(1.1674)">80</div>
<div class="t" style="left:100.85px;top:1217.27px;font-size:55.35px;font-weight:bold;color:#000;transform:scaleX(1.1844)">70</div>
<div class="t" style="left:101.53px;top:1289.77px;font-size:55.35px;font-weight:bold;color:#000;transform:scaleX(1.1730)">60</div>
<div class="t" style="left:101.86px;top:1362.27px;font-size:55.35px;font-weight:bold;color:#000;transform:scaleX(1.1674)">50</div>
<div class="t" style="left:102.84px;top:1434.77px;font-size:55.35px;font-weight:bold;color:#000;transform:scaleX(1.1508)">40</div>
<div class="t" style="left:102.19px;top:1507.27px;font-size:55.35px;font-weight:bold;color:#000;transform:scaleX(1.1618)">30</div>
<div class="t" style="left:101.53px;top:1579.77px;font-size:55.35px;font-weight:bold;color:#000;transform:scaleX(1.1730)">20</div>
<div class="t" style="left:137.81px;top:1652.27px;font-size:55.35px;font-weight:bold;color:#000;transform:scaleX(1.1676)">0</div>
<div class="t" style="left:137.93px;top:1724.77px;font-size:55.35px;font-weight:bold;color:#000;transform:scaleX(1.1600)">0</div>
<div class="t" style="left:137.81px;top:1797.27px;font-size:55.35px;font-weight:bold;color:#000;transform:scaleX(1.1676)">0</div>
<div class="t" style="left:1814.88px;top:1071.71px;font-size:56.48px;font-weight:bold;color:#000;transform:scaleX(1.1208)">9</div>
<div class="t" style="left:1815.24px;top:1144.21px;font-size:56.48px;font-weight:bold;color:#000;transform:scaleX(1.0981)">8</div>
<div class="t" style="left:1814.13px;top:1215.89px;font-size:58.12px;font-weight:bold;color:#000;transform:scaleX(1.1360)">7</div>
<div class="t" style="left:1814.88px;top:1289.21px;font-size:56.48px;font-weight:bold;color:#000;transform:scaleX(1.1208)">6</div>
<div class="t" style="left:1815.26px;top:1361.02px;font-size:57.29px;font-weight:bold;color:#000;transform:scaleX(1.0718)">5</div>
<div class="t" style="left:1816.24px;top:1433.39px;font-size:58.12px;font-weight:bold;color:#000;transform:scaleX(0.9874)">4</div>
<div class="t" style="left:1815.55px;top:1506.71px;font-size:56.48px;font-weight:bold;color:#000;transform:scaleX(1.0981)">3</div>
<div class="t" style="left:1814.86px;top:1579.09px;font-size:57.29px;font-weight:bold;color:#000;transform:scaleX(1.1165)">2</div>
<div class="t" style="left:1814.51px;top:1724.21px;font-size:56.48px;font-weight:bold;color:#000;transform:scaleX(1.1443)">0</div>
<div class="t" style="left:182.86px;top:1867.17px;font-size:55.35px;font-weight:bold;color:#000;transform:scaleX(1.1546)">2022</div>
<div class="t" style="left:560.75px;top:1867.17px;font-size:55.35px;font-weight:bold;color:#000;transform:scaleX(1.1519)">2023</div>
<div class="t" style="left:938.66px;top:1867.17px;font-size:55.35px;font-weight:bold;color:#000;transform:scaleX(1.1361)">2024</div>
<div class="t" style="left:1316.51px;top:1867.17px;font-size:55.35px;font-weight:bold;color:#000;transform:scaleX(1.1492)">2025</div>
<div class="t" style="left:498.98px;top:1189.14px;font-size:42.86px;font-weight:normal;color:#1a1a1a;-webkit-text-stroke:0.018em #1a1a1a;transform:scaleX(1.4493)">非農業部門雇用者数変化</div>
<div class="t" style="left:1187.26px;top:1187.62px;font-size:41.67px;font-weight:normal;color:#1a1a1a;-webkit-text-stroke:0.018em #1a1a1a;transform:scaleX(1.4952)">[万人]</div>
<div class="t" style="left:1346.61px;top:1187.85px;font-size:43.07px;font-weight:normal;color:#1a1a1a;-webkit-text-stroke:0.018em #1a1a1a;transform:scaleX(1.4580)">（左軸）</div>
<div class="t" style="left:1259.41px;top:1321.65px;font-size:43.56px;font-weight:normal;color:#1a1a1a;-webkit-text-stroke:0.018em #1a1a1a;transform:scaleX(1.4306)">失業率</div>
<div class="t" style="left:1481.24px;top:1320.35px;font-size:43.56px;font-weight:normal;color:#1a1a1a;-webkit-text-stroke:0.018em #1a1a1a;transform:scaleX(1.4152)">（右軸）</div>
<div class="t" style="left:719.74px;top:1962.17px;font-size:27.77px;font-weight:bold;color:#fafafa;transform:scaleX(1.1321)">Copyright 2025 IKD Lab. (X:@sikeda23)</div>
<svg style="position:absolute;left:1102.7px;top:579.8px" width="36.10" height="45.40" viewBox="0 0 100 100" preserveAspectRatio="none"><path fill="#1b1a1a" fill-rule="evenodd" d="M19,0 L27,0 A19,15 0 0 1 46,15 L46,22 A19,15 0 0 1 27,37 L19,37 A19,15 0 0 1 0,22 L0,15 A19,15 0 0 1 19,0 Z M22.5,8 L22.5,8 A8.5,9 0 0 1 31,17 L31,20 A8.5,9 0 0 1 22.5,29 L22.5,29 A8.5,9 0 0 1 14,20 L14,17 A8.5,9 0 0 1 22.5,8 Z M73,63 L81,63 A19,15 0 0 1 100,78 L100,85 A19,15 0 0 1 81,100 L73,100 A19,15 0 0 1 54,85 L54,78 A19,15 0 0 1 73,63 Z M77,71 L77,71 A9,9 0 0 1 86,80 L86,83 A9,9 0 0 1 77,92 L77,92 A9,9 0 0 1 68,83 L68,80 A9,9 0 0 1 77,71 Z "/><polygon fill="#1b1a1a" points="1,100 19,100 99,0 81,0"/></svg>
<svg style="position:absolute;left:1709.2px;top:582.5px" width="31.90" height="39.80" viewBox="0 0 100 100" preserveAspectRatio="none"><path fill="#1b1a1a" fill-rule="evenodd" d="M19,0 L27,0 A19,15 0 0 1 46,15 L46,22 A19,15 0 0 1 27,37 L19,37 A19,15 0 0 1 0,22 L0,15 A19,15 0 0 1 19,0 Z M22.5,8 L22.5,8 A8.5,9 0 0 1 31,17 L31,20 A8.5,9 0 0 1 22.5,29 L22.5,29 A8.5,9 0 0 1 14,20 L14,17 A8.5,9 0 0 1 22.5,8 Z M73,63 L81,63 A19,15 0 0 1 100,78 L100,85 A19,15 0 0 1 81,100 L73,100 A19,15 0 0 1 54,85 L54,78 A19,15 0 0 1 73,63 Z M77,71 L77,71 A9,9 0 0 1 86,80 L86,83 A9,9 0 0 1 77,92 L77,92 A9,9 0 0 1 68,83 L68,80 A9,9 0 0 1 77,71 Z "/><polygon fill="#1b1a1a" points="1,100 19,100 99,0 81,0"/></svg>
<svg style="position:absolute;left:1133.8px;top:706.4px" width="36.60" height="45.30" viewBox="0 0 100 100" preserveAspectRatio="none"><path fill="#1b1a1a" fill-rule="evenodd" d="M19,0 L27,0 A19,15 0 0 1 46,15 L46,22 A19,15 0 0 1 27,37 L19,37 A19,15 0 0 1 0,22 L0,15 A19,15 0 0 1 19,0 Z M22.5,8 L22.5,8 A8.5,9 0 0 1 31,17 L31,20 A8.5,9 0 0 1 22.5,29 L22.5,29 A8.5,9 0 0 1 14,20 L14,17 A8.5,9 0 0 1 22.5,8 Z M73,63 L81,63 A19,15 0 0 1 100,78 L100,85 A19,15 0 0 1 81,100 L73,100 A19,15 0 0 1 54,85 L54,78 A19,15 0 0 1 73,63 Z M77,71 L77,71 A9,9 0 0 1 86,80 L86,83 A9,9 0 0 1 77,92 L77,92 A9,9 0 0 1 68,83 L68,80 A9,9 0 0 1 77,71 Z "/><polygon fill="#1b1a1a" points="1,100 19,100 99,0 81,0"/></svg>
<svg style="position:absolute;left:1737.6px;top:708.3px" width="31.90" height="40.60" viewBox="0 0 100 100" preserveAspectRatio="none"><path fill="#1b1a1a" fill-rule="evenodd" d="M19,0 L27,0 A19,15 0 0 1 46,15 L46,22 A19,15 0 0 1 27,37 L19,37 A19,15 0 0 1 0,22 L0,15 A19,15 0 0 1 19,0 Z M22.5,8 L22.5,8 A8.5,9 0 0 1 31,17 L31,20 A8.5,9 0 0 1 22.5,29 L22.5,29 A8.5,9 0 0 1 14,20 L14,17 A8.5,9 0 0 1 22.5,8 Z M73,63 L81,63 A19,15 0 0 1 100,78 L100,85 A19,15 0 0 1 81,100 L73,100 A19,15 0 0 1 54,85 L54,78 A19,15 0 0 1 73,63 Z M77,71 L77,71 A9,9 0 0 1 86,80 L86,83 A9,9 0 0 1 77,92 L77,92 A9,9 0 0 1 68,83 L68,80 A9,9 0 0 1 77,71 Z "/><polygon fill="#1b1a1a" points="1,100 19,100 99,0 81,0"/></svg>
<svg style="position:absolute;left:1133.8px;top:832.2px" width="36.60" height="45.60" viewBox="0 0 100 100" preserveAspectRatio="none"><path fill="#1b1a1a" fill-rule="evenodd" d="M19,0 L27,0 A19,15 0 0 1 46,15 L46,22 A19,15 0 0 1 27,37 L19,37 A19,15 0 0 1 0,22 L0,15 A19,15 0 0 1 19,0 Z M22.5,8 L22.5,8 A8.5,9 0 0 1 31,17 L31,20 A8.5,9 0 0 1 22.5,29 L22.5,29 A8.5,9 0 0 1 14,20 L14,17 A8.5,9 0 0 1 22.5,8 Z M73,63 L81,63 A19,15 0 0 1 100,78 L100,85 A19,15 0 0 1 81,100 L73,100 A19,15 0 0 1 54,85 L54,78 A19,15 0 0 1 73,63 Z M77,71 L77,71 A9,9 0 0 1 86,80 L86,83 A9,9 0 0 1 77,92 L77,92 A9,9 0 0 1 68,83 L68,80 A9,9 0 0 1 77,71 Z "/><polygon fill="#1b1a1a" points="1,100 19,100 99,0 81,0"/></svg>
<svg style="position:absolute;left:1737.6px;top:834.8px" width="31.90" height="40.10" viewBox="0 0 100 100" preserveAspectRatio="none"><path fill="#1b1a1a" fill-rule="evenodd" d="M19,0 L27,0 A19,15 0 0 1 46,15 L46,22 A19,15 0 0 1 27,37 L19,37 A19,15 0 0 1 0,22 L0,15 A19,15 0 0 1 19,0 Z M22.5,8 L22.5,8 A8.5,9 0 0 1 31,17 L31,20 A8.5,9 0 0 1 22.5,29 L22.5,29 A8.5,9 0 0 1 14,20 L14,17 A8.5,9 0 0 1 22.5,8 Z M73,63 L81,63 A19,15 0 0 1 100,78 L100,85 A19,15 0 0 1 81,100 L73,100 A19,15 0 0 1 54,85 L54,78 A19,15 0 0 1 73,63 Z M77,71 L77,71 A9,9 0 0 1 86,80 L86,83 A9,9 0 0 1 77,92 L77,92 A9,9 0 0 1 68,83 L68,80 A9,9 0 0 1 77,71 Z "/><polygon fill="#1b1a1a" points="1,100 19,100 99,0 81,0"/></svg>
<svg style="position:absolute;left:1127.8px;top:958.3px" width="36.40" height="45.70" viewBox="0 0 100 100" preserveAspectRatio="none"><path fill="#1b1a1a" fill-rule="evenodd" d="M19,0 L27,0 A19,15 0 0 1 46,15 L46,22 A19,15 0 0 1 27,37 L19,37 A19,15 0 0 1 0,22 L0,15 A19,15 0 0 1 19,0 Z M22.5,8 L22.5,8 A8.5,9 0 0 1 31,17 L31,20 A8.5,9 0 0 1 22.5,29 L22.5,29 A8.5,9 0 0 1 14,20 L14,17 A8.5,9 0 0 1 22.5,8 Z M73,63 L81,63 A19,15 0 0 1 100,78 L100,85 A19,15 0 0 1 81,100 L73,100 A19,15 0 0 1 54,85 L54,78 A19,15 0 0 1 73,63 Z M77,71 L77,71 A9,9 0 0 1 86,80 L86,83 A9,9 0 0 1 77,92 L77,92 A9,9 0 0 1 68,83 L68,80 A9,9 0 0 1 77,71 Z "/><polygon fill="#1b1a1a" points="1,100 19,100 99,0 81,0"/></svg>
<svg style="position:absolute;left:1854.5px;top:1079.8999999999999px" width="30.80" height="40.10" viewBox="0 0 100 100" preserveAspectRatio="none"><path fill="#000" fill-rule="evenodd" d="M19,0 L27,0 A19,15 0 0 1 46,15 L46,22 A19,15 0 0 1 27,37 L19,37 A19,15 0 0 1 0,22 L0,15 A19,15 0 0 1 19,0 Z M22.5,8 L22.5,8 A8.5,9 0 0 1 31,17 L31,20 A8.5,9 0 0 1 22.5,29 L22.5,29 A8.5,9 0 0 1 14,20 L14,17 A8.5,9 0 0 1 22.5,8 Z M73,63 L81,63 A19,15 0 0 1 100,78 L100,85 A19,15 0 0 1 81,100 L73,100 A19,15 0 0 1 54,85 L54,78 A19,15 0 0 1 73,63 Z M77,71 L77,71 A9,9 0 0 1 86,80 L86,83 A9,9 0 0 1 77,92 L77,92 A9,9 0 0 1 68,83 L68,80 A9,9 0 0 1 77,71 Z "/><polygon fill="#000" points="1,100 19,100 99,0 81,0"/></svg>
<svg style="position:absolute;left:1854.5px;top:1152.3999999999999px" width="30.80" height="40.10" viewBox="0 0 100 100" preserveAspectRatio="none"><path fill="#000" fill-rule="evenodd" d="M19,0 L27,0 A19,15 0 0 1 46,15 L46,22 A19,15 0 0 1 27,37 L19,37 A19,15 0 0 1 0,22 L0,15 A19,15 0 0 1 19,0 Z M22.5,8 L22.5,8 A8.5,9 0 0 1 31,17 L31,20 A8.5,9 0 0 1 22.5,29 L22.5,29 A8.5,9 0 0 1 14,20 L14,17 A8.5,9 0 0 1 22.5,8 Z M73,63 L81,63 A19,15 0 0 1 100,78 L100,85 A19,15 0 0 1 81,100 L73,100 A19,15 0 0 1 54,85 L54,78 A19,15 0 0 1 73,63 Z M77,71 L77,71 A9,9 0 0 1 86,80 L86,83 A9,9 0 0 1 77,92 L77,92 A9,9 0 0 1 68,83 L68,80 A9,9 0 0 1 77,71 Z "/><polygon fill="#000" points="1,100 19,100 99,0 81,0"/></svg>
<svg style="position:absolute;left:1854.5px;top:1224.8999999999999px" width="30.80" height="40.10" viewBox="0 0 100 100" preserveAspectRatio="none"><path fill="#000" fill-rule="evenodd" d="M19,0 L27,0 A19,15 0 0 1 46,15 L46,22 A19,15 0 0 1 27,37 L19,37 A19,15 0 0 1 0,22 L0,15 A19,15 0 0 1 19,0 Z M22.5,8 L22.5,8 A8.5,9 0 0 1 31,17 L31,20 A8.5,9 0 0 1 22.5,29 L22.5,29 A8.5,9 0 0 1 14,20 L14,17 A8.5,9 0 0 1 22.5,8 Z M73,63 L81,63 A19,15 0 0 1 100,78 L100,85 A19,15 0 0 1 81,100 L73,100 A19,15 0 0 1 54,85 L54,78 A19,15 0 0 1 73,63 Z M77,71 L77,71 A9,9 0 0 1 86,80 L86,83 A9,9 0 0 1 77,92 L77,92 A9,9 0 0 1 68,83 L68,80 A9,9 0 0 1 77,71 Z "/><polygon fill="#000" points="1,100 19,100 99,0 81,0"/></svg>
<svg style="position:absolute;left:1854.5px;top:1297.3999999999999px" width="30.80" height="40.10" viewBox="0 0 100 100" preserveAspectRatio="none"><path fill="#000" fill-rule="evenodd" d="M19,0 L27,0 A19,15 0 0 1 46,15 L46,22 A19,15 0 0 1 27,37 L19,37 A19,15 0 0 1 0,22 L0,15 A19,15 0 0 1 19,0 Z M22.5,8 L22.5,8 A8.5,9 0 0 1 31,17 L31,20 A8.5,9 0 0 1 22.5,29 L22.5,29 A8.5,9 0 0 1 14,20 L14,17 A8.5,9 0 0 1 22.5,8 Z M73,63 L81,63 A19,15 0 0 1 100,78 L100,85 A19,15 0 0 1 81,100 L73,100 A19,15 0 0 1 54,85 L54,78 A19,15 0 0 1 73,63 Z M77,71 L77,71 A9,9 0 0 1 86,80 L86,83 A9,9 0 0 1 77,92 L77,92 A9,9 0 0 1 68,83 L68,80 A9,9 0 0 1 77,71 Z "/><polygon fill="#000" points="1,100 19,100 99,0 81,0"/></svg>
<svg style="position:absolute;left:1854.5px;top:1369.8999999999999px" width="30.80" height="40.10" viewBox="0 0 100 100" preserveAspectRatio="none"><path fill="#000" fill-rule="evenodd" d="M19,0 L27,0 A19,15 0 0 1 46,15 L46,22 A19,15 0 0 1 27,37 L19,37 A19,15 0 0 1 0,22 L0,15 A19,15 0 0 1 19,0 Z M22.5,8 L22.5,8 A8.5,9 0 0 1 31,17 L31,20 A8.5,9 0 0 1 22.5,29 L22.5,29 A8.5,9 0 0 1 14,20 L14,17 A8.5,9 0 0 1 22.5,8 Z M73,63 L81,63 A19,15 0 0 1 100,78 L100,85 A19,15 0 0 1 81,100 L73,100 A19,15 0 0 1 54,85 L54,78 A19,15 0 0 1 73,63 Z M77,71 L77,71 A9,9 0 0 1 86,80 L86,83 A9,9 0 0 1 77,92 L77,92 A9,9 0 0 1 68,83 L68,80 A9,9 0 0 1 77,71 Z "/><polygon fill="#000" points="1,100 19,100 99,0 81,0"/></svg>
<svg style="position:absolute;left:1854.5px;top:1442.3999999999999px" width="30.80" height="40.10" viewBox="0 0 100 100" preserveAspectRatio="none"><path fill="#000" fill-rule="evenodd" d="M19,0 L27,0 A19,15 0 0 1 46,15 L46,22 A19,15 0 0 1 27,37 L19,37 A19,15 0 0 1 0,22 L0,15 A19,15 0 0 1 19,0 Z M22.5,8 L22.5,8 A8.5,9 0 0 1 31,17 L31,20 A8.5,9 0 0 1 22.5,29 L22.5,29 A8.5,9 0 0 1 14,20 L14,17 A8.5,9 0 0 1 22.5,8 Z M73,63 L81,63 A19,15 0 0 1 100,78 L100,85 A19,15 0 0 1 81,100 L73,100 A19,15 0 0 1 54,85 L54,78 A19,15 0 0 1 73,63 Z M77,71 L77,71 A9,9 0 0 1 86,80 L86,83 A9,9 0 0 1 77,92 L77,92 A9,9 0 0 1 68,83 L68,80 A9,9 0 0 1 77,71 Z "/><polygon fill="#000" points="1,100 19,100 99,0 81,0"/></svg>
<svg style="position:absolute;left:1854.5px;top:1514.8999999999999px" width="30.80" height="40.10" viewBox="0 0 100 100" preserveAspectRatio="none"><path fill="#000" fill-rule="evenodd" d="M19,0 L27,0 A19,15 0 0 1 46,15 L46,22 A19,15 0 0 1 27,37 L19,37 A19,15 0 0 1 0,22 L0,15 A19,15 0 0 1 19,0 Z M22.5,8 L22.5,8 A8.5,9 0 0 1 31,17 L31,20 A8.5,9 0 0 1 22.5,29 L22.5,29 A8.5,9 0 0 1 14,20 L14,17 A8.5,9 0 0 1 22.5,8 Z M73,63 L81,63 A19,15 0 0 1 100,78 L100,85 A19,15 0 0 1 81,100 L73,100 A19,15 0 0 1 54,85 L54,78 A19,15 0 0 1 73,63 Z M77,71 L77,71 A9,9 0 0 1 86,80 L86,83 A9,9 0 0 1 77,92 L77,92 A9,9 0 0 1 68,83 L68,80 A9,9 0 0 1 77,71 Z "/><polygon fill="#000" points="1,100 19,100 99,0 81,0"/></svg>
<svg style="position:absolute;left:1854.5px;top:1587.3999999999999px" width="30.80" height="40.10" viewBox="0 0 100 100" preserveAspectRatio="none"><path fill="#000" fill-rule="evenodd" d="M19,0 L27,0 A19,15 0 0 1 46,15 L46,22 A19,15 0 0 1 27,37 L19,37 A19,15 0 0 1 0,22 L0,15 A19,15 0 0 1 19,0 Z M22.5,8 L22.5,8 A8.5,9 0 0 1 31,17 L31,20 A8.5,9 0 0 1 22.5,29 L22.5,29 A8.5,9 0 0 1 14,20 L14,17 A8.5,9 0 0 1 22.5,8 Z M73,63 L81,63 A19,15 0 0 1 100,78 L100,85 A19,15 0 0 1 81,100 L73,100 A19,15 0 0 1 54,85 L54,78 A19,15 0 0 1 73,63 Z M77,71 L77,71 A9,9 0 0 1 86,80 L86,83 A9,9 0 0 1 77,92 L77,92 A9,9 0 0 1 68,83 L68,80 A9,9 0 0 1 77,71 Z "/><polygon fill="#000" points="1,100 19,100 99,0 81,0"/></svg>
<svg style="position:absolute;left:1854.5px;top:1659.8999999999999px" width="30.80" height="40.10" viewBox="0 0 100 100" preserveAspectRatio="none"><path fill="#000" fill-rule="evenodd" d="M19,0 L27,0 A19,15 0 0 1 46,15 L46,22 A19,15 0 0 1 27,37 L19,37 A19,15 0 0 1 0,22 L0,15 A19,15 0 0 1 19,0 Z M22.5,8 L22.5,8 A8.5,9 0 0 1 31,17 L31,20 A8.5,9 0 0 1 22.5,29 L22.5,29 A8.5,9 0 0 1 14,20 L14,17 A8.5,9 0 0 1 22.5,8 Z M73,63 L81,63 A19,15 0 0 1 100,78 L100,85 A19,15 0 0 1 81,100 L73,100 A19,15 0 0 1 54,85 L54,78 A19,15 0 0 1 73,63 Z M77,71 L77,71 A9,9 0 0 1 86,80 L86,83 A9,9 0 0 1 77,92 L77,92 A9,9 0 0 1 68,83 L68,80 A9,9 0 0 1 77,71 Z "/><polygon fill="#000" points="1,100 19,100 99,0 81,0"/></svg>
<svg style="position:absolute;left:1854.5px;top:1732.3999999999999px" width="30.80" height="40.10" viewBox="0 0 100 100" preserveAspectRatio="none"><path fill="#000" fill-rule="evenodd" d="M19,0 L27,0 A19,15 0 0 1 46,15 L46,22 A19,15 0 0 1 27,37 L19,37 A19,15 0 0 1 0,22 L0,15 A19,15 0 0 1 19,0 Z M22.5,8 L22.5,8 A8.5,9 0 0 1 31,17 L31,20 A8.5,9 0 0 1 22.5,29 L22.5,29 A8.5,9 0 0 1 14,20 L14,17 A8.5,9 0 0 1 22.5,8 Z M73,63 L81,63 A19,15 0 0 1 100,78 L100,85 A19,15 0 0 1 81,100 L73,100 A19,15 0 0 1 54,85 L54,78 A19,15 0 0 1 73,63 Z M77,71 L77,71 A9,9 0 0 1 86,80 L86,83 A9,9 0 0 1 77,92 L77,92 A9,9 0 0 1 68,83 L68,80 A9,9 0 0 1 77,71 Z "/><polygon fill="#000" points="1,100 19,100 99,0 81,0"/></svg>
<svg style="position:absolute;left:1450.7px;top:1326.8px" width="25.80" height="32.80" viewBox="0 0 100 100" preserveAspectRatio="none"><path fill="#1a1a1a" fill-rule="evenodd" d="M19,0 L27,0 A19,15 0 0 1 46,15 L46,22 A19,15 0 0 1 27,37 L19,37 A19,15 0 0 1 0,22 L0,15 A19,15 0 0 1 19,0 Z M22.5,8 L22.5,8 A8.5,9 0 0 1 31,17 L31,20 A8.5,9 0 0 1 22.5,29 L22.5,29 A8.5,9 0 0 1 14,20 L14,17 A8.5,9 0 0 1 22.5,8 Z M73,63 L81,63 A19,15 0 0 1 100,78 L100,85 A19,15 0 0 1 81,100 L73,100 A19,15 0 0 1 54,85 L54,78 A19,15 0 0 1 73,63 Z M77,71 L77,71 A9,9 0 0 1 86,80 L86,83 A9,9 0 0 1 77,92 L77,92 A9,9 0 0 1 68,83 L68,80 A9,9 0 0 1 77,71 Z "/><polygon fill="#1a1a1a" points="1,100 19,100 99,0 81,0"/></svg>
<div class="r" style="left:76px;top:1826.6px;width:23px;height:5.800000000000182px;background:#000"></div>
<svg style="position:absolute;left:895.6px;top:435.6px" width="60.70" height="44.70" viewBox="0 0 100 100" preserveAspectRatio="none"><path fill="#1b1a1a" d="M40,0H60V41H100V59H60V100H40V59H0V41H40Z"/></svg>
<svg style="position:absolute;left:1540.2px;top:438px" width="49.80" height="36.30" viewBox="0 0 100 100" preserveAspectRatio="none"><path fill="#1b1a1a" d="M40,0H60V41H100V59H60V100H40V59H0V41H40Z"/></svg>
<svg style="position:absolute;left:945.8px;top:710.9px" width="54.60" height="40.80" viewBox="0 0 100 100" preserveAspectRatio="none"><path fill="#1b1a1a" d="M40,0H60V41H100V59H60V100H40V59H0V41H40Z"/></svg>
<svg style="position:absolute;left:945.8px;top:837px" width="54.60" height="40.80" viewBox="0 0 100 100" preserveAspectRatio="none"><path fill="#1b1a1a" d="M40,0H60V41H100V59H60V100H40V59H0V41H40Z"/></svg>
<svg style="position:absolute;left:1568.3px;top:712.3px" width="49.70" height="36.30" viewBox="0 0 100 100" preserveAspectRatio="none"><path fill="#1b1a1a" d="M40,0H60V41H100V59H60V100H40V59H0V41H40Z"/></svg>
<svg style="position:absolute;left:1568.3px;top:838.1px" width="49.70" height="36.80" viewBox="0 0 100 100" preserveAspectRatio="none"><path fill="#1b1a1a" d="M40,0H60V41H100V59H60V100H40V59H0V41H40Z"/></svg>
<svg style="position:absolute;left:1088.1px;top:820.6px" width="24.40" height="57.20" viewBox="0 0 100 100" preserveAspectRatio="none"><polygon fill="#1b1a1a" points="0,18 47,0 100,0 100,100 47,100 47,25 0,33"/></svg>
<svg style="position:absolute;left:894.7px;top:101.6px" width="15.50" height="34.10" viewBox="0 0 100 100" preserveAspectRatio="none"><polygon fill="#fafafa" points="0,18 47,0 100,0 100,100 47,100 47,25 0,33"/></svg>
<svg style="position:absolute;left:924.6px;top:101.6px" width="15.50" height="34.10" viewBox="0 0 100 100" preserveAspectRatio="none"><polygon fill="#fafafa" points="0,18 47,0 100,0 100,100 47,100 47,25 0,33"/></svg>
<svg style="position:absolute;left:108.9px;top:1660.3px" width="16.10" height="39.30" viewBox="0 0 100 100" preserveAspectRatio="none"><polygon fill="#000" points="0,18 47,0 100,0 100,100 47,100 47,25 0,33"/></svg>
<svg style="position:absolute;left:108.9px;top:1805.3px" width="16.10" height="39.30" viewBox="0 0 100 100" preserveAspectRatio="none"><polygon fill="#000" points="0,18 47,0 100,0 100,100 47,100 47,25 0,33"/></svg>
<svg style="position:absolute;left:1821.7px;top:1659.8999999999999px" width="15.60" height="40.10" viewBox="0 0 100 100" preserveAspectRatio="none"><polygon fill="#000" points="0,18 47,0 100,0 100,100 47,100 47,25 0,33"/></svg>
</body></html>
